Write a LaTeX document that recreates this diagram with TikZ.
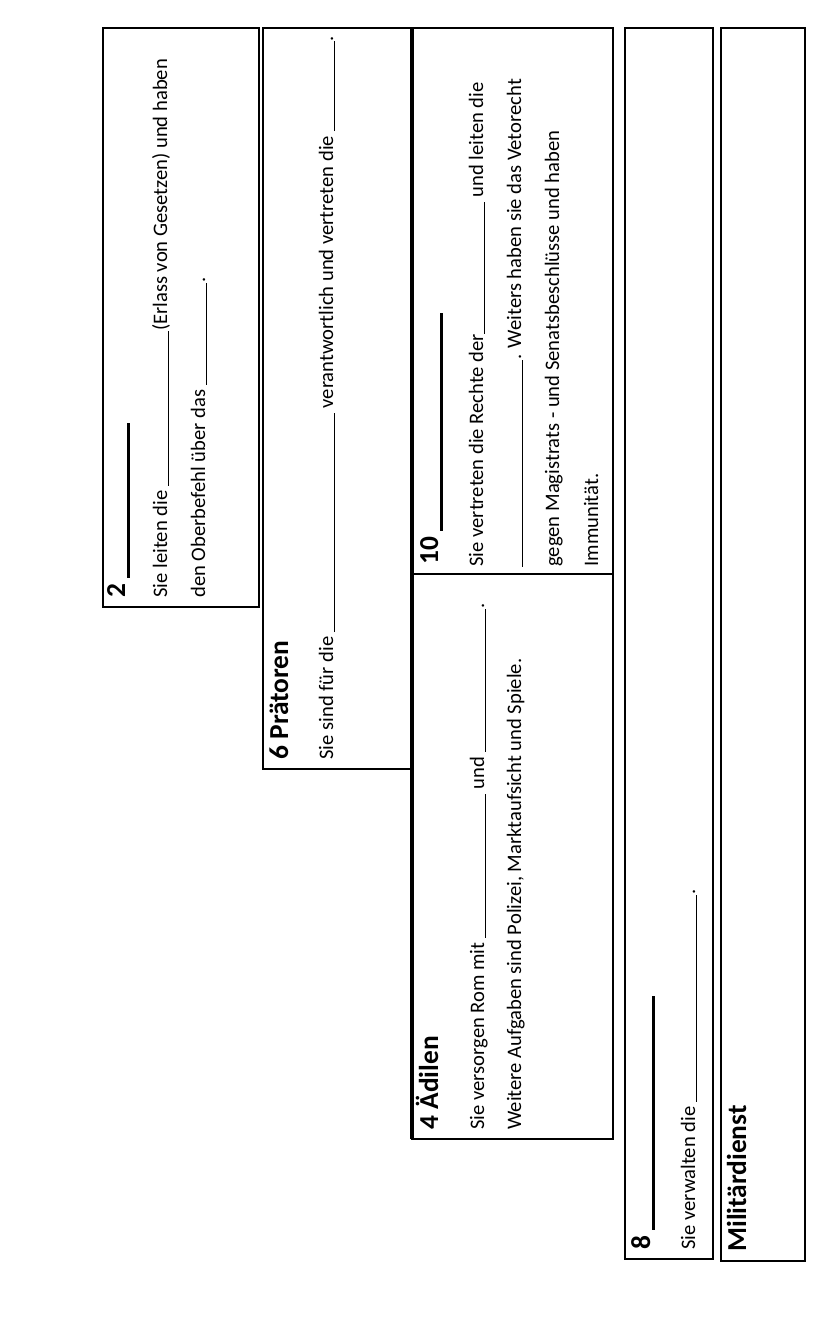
\documentclass[tikz,border=0pt]{standalone}
\usepackage{fontspec}
\setmainfont{Carlito}
\usepackage{tikz}
\newcommand\luecke[1]{\rule[-1.2pt]{#1}{0.5pt}}
\newcommand\dicklinie[1]{\rule[-2.4pt]{#1}{1.4pt}}

\begin{document}
\begin{tikzpicture}[x=0.5pt, y=-0.5pt,
        box/.style={line width=1pt},
        txt/.style={rotate=90, anchor=base west, inner sep=0pt, font=\fontsize{10.3}{12}\selectfont},
        ttl/.style={txt, font=\fontsize{13.7}{16}\selectfont\bfseries}]
        \useasboundingbox (0,0) rectangle (838,1320);

        % Draw the boxes
        \draw[box] (103,28) rectangle (259,607);
        \draw[box] (263,28) rectangle (412,769);
        \draw[box] (412,28) rectangle (613,1139);
        \draw[box] (412,574) -- (613,574);
        \draw[box] (625,28) rectangle (713,1259);
        \draw[box] (721,28) rectangle (805,1261);
        \draw[line width=2pt] (412,28) -- (412,1139);

        % Konsuln
        \node[ttl] (zwei) at (125,598) {2 \dicklinie{77.5pt}};
        \node[txt] (zwei1) at (167,598) {Sie leiten die \luecke{77.5pt}(Erlass von Gesetzen) und haben};
        \node[txt] (zwei2) at (205,598) {den Oberbefehl über das \luecke{51pt}.};

        % Praetoren
        \node[ttl] (sechs) at (288,760) {6 Prätoren};
        \node[txt] (sechs1) at (333,760) {Sie sind für die \luecke{109.5pt} verantwortlich und vertreten die \luecke{45pt}.};

        % Volkstribunen
        \node[ttl] (zehn) at (438,565) {10 \dicklinie{109pt}};
        \node[txt] (zehn1) at (483,567) {Sie vertreten die Rechte der\luecke{66pt} und leiten die};
        \node[txt] (zehn2) at (521,567) {\luecke{103.5pt}. Weiters haben sie das Vetorecht};
        \node[txt] (zehn3) at (559,567) {gegen Magistrats - und Senatsbeschlüsse und haben};
        \node[txt] (zehn4) at (598,567) {Immunität.};

        % Aedilen
        \node[ttl] (vier) at (438,1130) {4 Ädilen};
        \node[txt] (vier1) at (484,1130) {Sie versorgen Rom mit \luecke{72pt} und \luecke{71.5pt}.};
        \node[txt] (vier2) at (521,1130) {Weitere Aufgaben sind Polizei, Marktaufsicht und Spiele.};

        % Quaestoren
        \node[ttl] (acht) at (650,1250) {8 \dicklinie{117pt}};
        \node[txt] (acht1) at (695,1250) {Sie verwalten die \luecke{103.5pt}.};

        % Militaerdienst
        \node[ttl] (militaer) at (746,1252) {Militärdienst};
\end{tikzpicture}
\end{document}
